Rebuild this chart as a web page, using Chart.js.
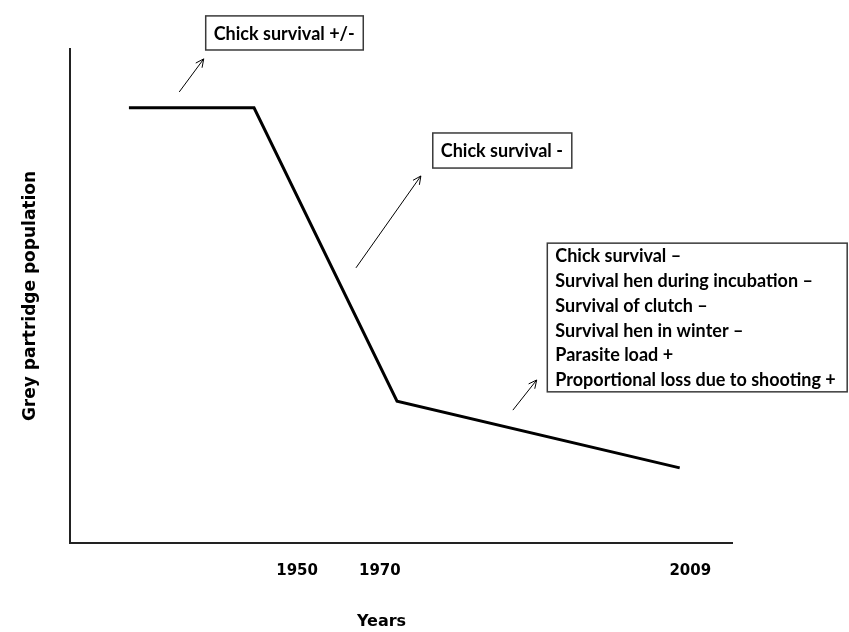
<!DOCTYPE html>
<html>
<head>
<meta charset="utf-8">
<script src="https://cdn.jsdelivr.net/npm/chart.js@4/dist/chart.umd.min.js"></script>
<style>
  html, body { margin:0; padding:0; background:#fff; }
  #wrap { width:849px; height:632px; }
</style>
</head>
<body>
<div id="wrap"><canvas id="popChart" width="849" height="632"></canvas></div>
<script>
// schematic time axis (0-100) and relative population (0-100)
const xLabels = ["1950", "1970", "2009"];
const xTickPos = [34.3, 46.8, 93.7];
const popX = [8.9, 27.8, 49.4, 92.1];
const popY = [88.1, 88.1, 28.7, 15.2];

const note1 = ["Chick survival +/-"];
const note2 = ["Chick survival -"];
const note3 = [
  "Chick survival \u2013",
  "Survival hen during incubation \u2013",
  "Survival of clutch \u2013",
  "Survival hen in winter \u2013",
  "Parasite load +",
  "Proportional loss due to shooting +"
];

// placement of the text boxes and arrows, in axis units
const noteLayout = [
  { lines: note1, box: [20.5, 106.7, 44.3, 99.8], arrow: [16.5, 91.3, 20.2, 98.0] },
  { lines: note2, box: [54.8, 83.0, 75.8, 75.9], arrow: [43.2, 55.7, 53.0, 74.3] },
  { lines: note3, box: [72.1, 60.7, 117.4, 30.6], arrow: [66.9, 26.9, 70.5, 33.0] }
];

const boxFont = "bold 18px Lato";

function drawArrow(ctx, x1, y1, x2, y2) {
  const a = Math.atan2(y2 - y1, x2 - x1);
  const h = 9, w = 0.45;
  ctx.beginPath();
  ctx.moveTo(x1, y1); ctx.lineTo(x2, y2);
  ctx.moveTo(x2 - h * Math.cos(a - w), y2 - h * Math.sin(a - w));
  ctx.lineTo(x2, y2);
  ctx.lineTo(x2 - h * Math.cos(a + w), y2 - h * Math.sin(a + w));
  ctx.stroke();
}

const notesPlugin = {
  id: "notes",
  afterDraw(chart) {
    const ctx = chart.ctx, xs = chart.scales.x, ys = chart.scales.y;
    ctx.save();
    noteLayout.forEach(n => {
      const bx1 = xs.getPixelForValue(n.box[0]), by1 = ys.getPixelForValue(n.box[1]);
      const bx2 = xs.getPixelForValue(n.box[2]), by2 = ys.getPixelForValue(n.box[3]);
      ctx.fillStyle = "#fff";
      ctx.fillRect(bx1, by1, bx2 - bx1, by2 - by1);
      ctx.strokeStyle = "#3a3a3a";
      ctx.lineWidth = 1.5;
      ctx.strokeRect(bx1, by1, bx2 - bx1, by2 - by1);
      ctx.fillStyle = "#000";
      ctx.font = boxFont;
      ctx.textBaseline = "middle";
      ctx.textAlign = "left";
      const lh = (by2 - by1) / n.lines.length;
      n.lines.forEach((t, i) => {
        ctx.fillText(t, bx1 + 8, by1 + lh * (i + 0.5) + 1);
      });
      ctx.strokeStyle = "#000";
      ctx.lineWidth = 1;
      drawArrow(ctx,
        xs.getPixelForValue(n.arrow[0]), ys.getPixelForValue(n.arrow[1]),
        xs.getPixelForValue(n.arrow[2]), ys.getPixelForValue(n.arrow[3]));
    });
    ctx.restore();
  }
};

new Chart(document.getElementById("popChart").getContext("2d"), {
  type: "line",
  data: {
    datasets: [{
      data: popX.map((x, i) => ({ x: x, y: popY[i] })),
      borderColor: "#000",
      borderWidth: 3,
      pointRadius: 0,
      fill: false,
      tension: 0
    }]
  },
  options: {
    responsive: false,
    animation: false,
    layout: { padding: { left: 0, right: 117, top: 49, bottom: 0 } },
    plugins: { legend: { display: false }, tooltip: { enabled: false } },
    scales: {
      x: {
        type: "linear", min: 0, max: 100,
        grid: { display: false, drawTicks: false },
        border: { display: true, color: "#222", width: 2 },
        afterBuildTicks: s => { s.ticks = xTickPos.map(v => ({ value: v })); },
        afterFit: s => { s.height = 89; },
        ticks: {
          autoSkip: false, maxRotation: 0, padding: 19, color: "#000",
          font: { family: "DejaVu Sans", size: 15, weight: "bold" },
          callback: (v, i) => xLabels[i]
        },
        title: {
          // trailing spaces nudge the centred title left, under 1970
          display: true, text: "Years       ", color: "#000",
          font: { family: "DejaVu Sans", size: 16, weight: "bold" },
          padding: { top: 0, bottom: 1 }
        }
      },
      y: {
        type: "linear", min: 0, max: 100,
        grid: { display: false, drawTicks: false },
        border: { display: true, color: "#222", width: 2 },
        ticks: { display: false },
        afterFit: s => { s.width = 70; },
        title: {
          display: true, text: "Grey partridge population", color: "#000",
          font: { family: "DejaVu Sans", size: 17, weight: "bold" },
          padding: { top: 20, bottom: 0 }
        }
      }
    }
  },
  plugins: [notesPlugin]
});
</script>
</body>
</html>
